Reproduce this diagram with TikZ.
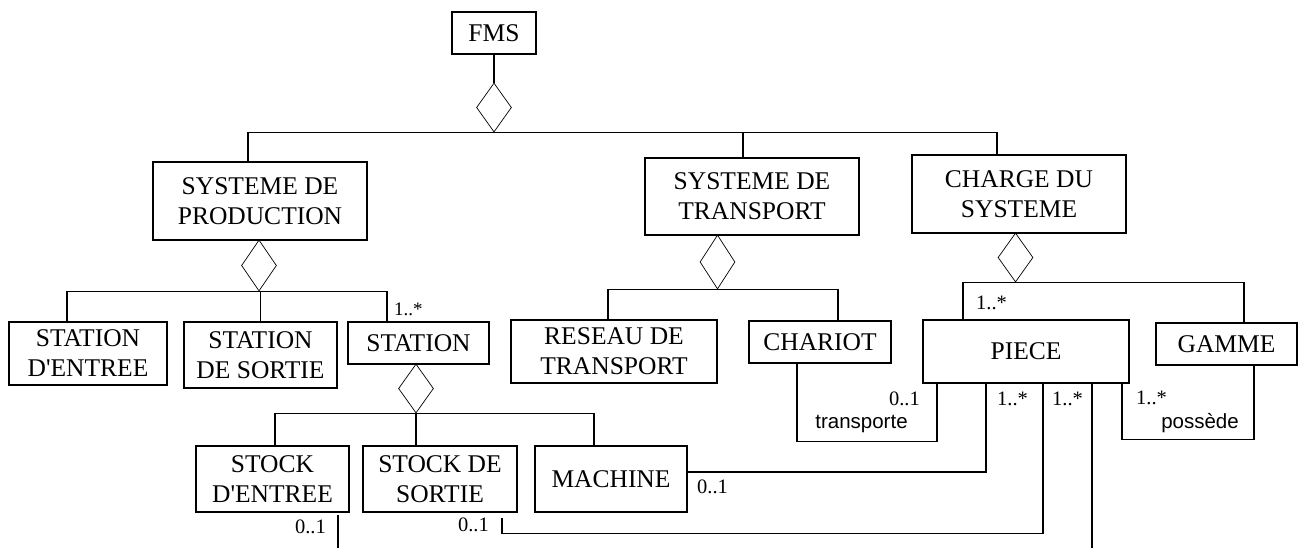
\documentclass[tikz,border=0pt]{standalone}
\usepackage{fontspec}
\setmainfont{Liberation Serif}
\newfontfamily\lsans{Liberation Sans}
\usetikzlibrary{shapes.geometric}
\begin{document}
\begin{tikzpicture}[x=1pt,y=-1pt,
  box/.style={draw, line width=1.3pt, inner sep=0pt, align=center, font=\fontsize{25.5}{30}\selectfont},
  agg/.style={draw, diamond, line width=0.7pt, minimum width=35pt, minimum height=49pt, inner sep=0pt},
  wire/.style={line width=1.1pt},
  mult/.style={font=\fontsize{20.5}{22}\selectfont, inner sep=0pt},
  role/.style={font=\lsans\fontsize{20.5}{22}\selectfont, inner sep=0pt}]
\useasboundingbox (0,0) rectangle (1302,547);

% boxes
\node[box, minimum width=84pt, minimum height=42pt] (fms) at (494,33) {FMS};
\node[box, minimum width=214pt, minimum height=78pt] (sdp) at (260,201) {SYSTEME DE\\PRODUCTION};
\node[box, minimum width=214pt, minimum height=77pt] (sdt) at (752,196.5) {SYSTEME DE\\TRANSPORT};
\node[box, minimum width=214pt, minimum height=78pt] (cds) at (1019,194) {CHARGE DU\\SYSTEME};
\node[box, minimum width=158pt, minimum height=63pt] (se) at (88,353.5) {STATION\\D\textquotesingle ENTREE};
\node[box, minimum width=153pt, minimum height=66pt] (ss) at (260.5,355) {STATION\\DE SORTIE};
\node[box, minimum width=141pt, minimum height=42pt] (st) at (418.5,343) {STATION};
\node[box, minimum width=206pt, minimum height=63pt] (rt) at (614,351.5) {RESEAU DE\\TRANSPORT};
\node[box, minimum width=142pt, minimum height=42pt] (ch) at (820,342) {CHARIOT};
\node[box, minimum width=206pt, minimum height=63pt] (pi) at (1026,351.5) {PIECE};
\node[box, minimum width=141pt, minimum height=42pt] (ga) at (1226.5,344) {GAMME};
\node[box, minimum width=153pt, minimum height=66pt] (sde) at (272.5,479) {STOCK\\D\textquotesingle ENTREE};
\node[box, minimum width=154pt, minimum height=66pt] (sds) at (440,479) {STOCK DE\\SORTIE};
\node[box, minimum width=152pt, minimum height=66pt] (ma) at (611,479) {MACHINE};

% aggregation diamonds
\node[agg] (d1) at (494,107.5) {};
\node[agg, minimum height=51pt] (d2) at (259,265.5) {};
\node[agg] (d3) at (416,388.5) {};
\node[agg, minimum height=54pt] (d4) at (717.5,262) {};
\node[agg] (d5) at (1015.5,257.5) {};

% composition trees
\draw[wire] (fms.south) -- (d1.north);
\draw[wire] ([xshift=-12pt]sdp.north) |- (d1.south) -| ([xshift=-22pt]cds.north);
\draw[wire] ([xshift=-9pt]sdt.north) -- ([xshift=-9pt]sdt.north |- d1.south);

\draw[wire] ([xshift=-21pt]se.north) |- (d2.south) -| ([xshift=-31.5pt]st.north);
\draw[wire] (ss.north) -- (ss.north |- d2.south);

\draw[wire] ([xshift=2.5pt]sde.north) |- (d3.south) -| ([xshift=-17pt]ma.north);
\draw[wire] (d3.south) -- (d3.south |- sds.north);

\draw[wire] ([xshift=-6pt]rt.north) |- (d4.south) -| ([xshift=18pt]ch.north);

\draw[wire] ([xshift=-63pt]pi.north) |- (d5.south) -| ([xshift=17.5pt]ga.north);

% associations
\draw[wire] ([xshift=-23pt]ch.south) -- ++(0,78) -| ([xshift=-89pt]pi.south);
\draw[wire] ([yshift=7pt]ma.east) -| ([xshift=-40pt]pi.south);
\draw[wire] ([xshift=62pt,yshift=-5pt]sds.south) -- ++(0,16) -| ([xshift=17pt]pi.south);
\coordinate (e1) at ([xshift=66pt,yshift=-164pt]pi.south);
\draw[wire] ([xshift=66pt]pi.south) -- (e1);
\coordinate (e2) at ([xshift=65.5pt,yshift=-35pt]sde.south);
\draw[wire] ([xshift=65.5pt,yshift=-2pt]sde.south) -- (e2);
\draw[wire] ([xshift=27.5pt]ga.south) -- ++(0,74) -| ([xshift=96pt]pi.south);

% labels
\node[mult, anchor=west, font=\fontsize{19}{21}\selectfont] (m9) at (394,309) {1..*};
\node[mult, anchor=west] (m8) at (976,303) {1..*};
\node[mult, anchor=east] (m1) at (920,399) {0..1};
\node[role] (r1) at (861.5,424) {transporte};
\node[mult, anchor=west] (m2) at (697,487) {0..1};
\node[mult, anchor=east] (m3) at (489,525) {0..1};
\node[mult, anchor=west] (m4) at (997,399) {1..*};
\node[mult, anchor=west] (m5) at (1052,399) {1..*};
\node[mult, anchor=east] (m6) at (326,527) {0..1};
\node[mult, anchor=west] (m7) at (1136,398) {1..*};
\node[role] (r2) at (1200,423) {possède};
\end{tikzpicture}
\end{document}
